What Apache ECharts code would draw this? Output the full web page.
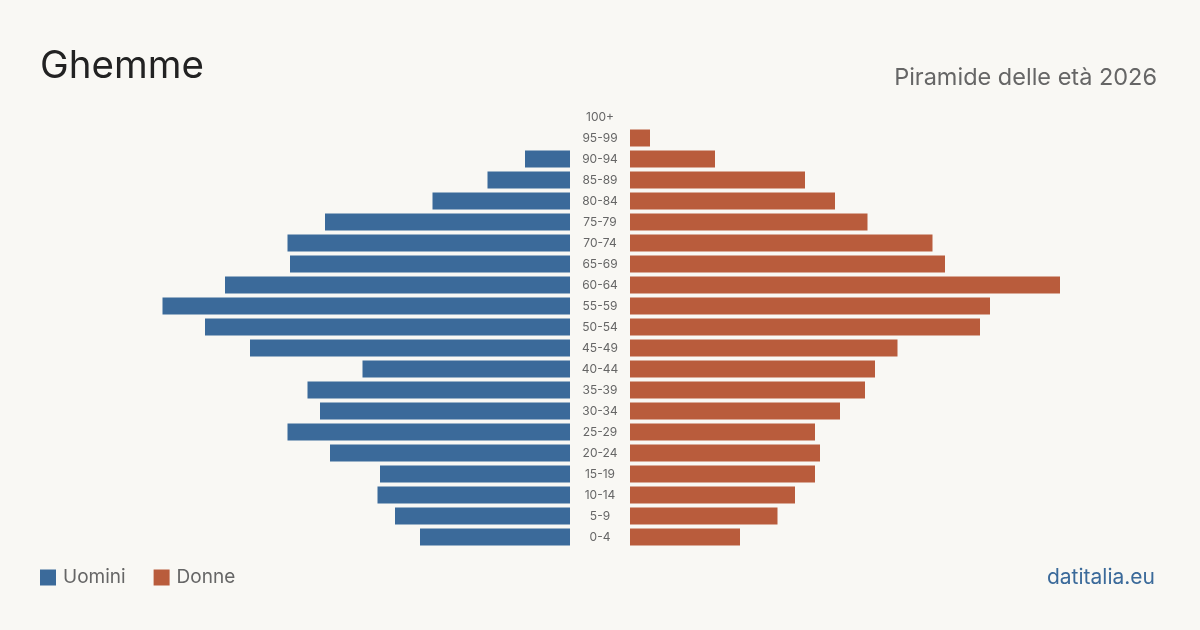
<!DOCTYPE html>
<html>
<head>
<meta charset="utf-8">
<title>Ghemme - Piramide delle età 2026</title>
<script src="https://cdn.jsdelivr.net/npm/echarts@6/dist/echarts.min.js"></script>
<style>
  html, body { margin: 0; padding: 0; background: #f9f8f4; }
  #chart { width: 1200px; height: 630px; }
</style>
</head>
<body>
<div id="chart"></div>
<script>
// classi di età, dal basso verso l'alto
const ageGroups = ['0-4', '5-9', '10-14', '15-19', '20-24', '25-29', '30-34', '35-39', '40-44', '45-49',
  '50-54', '55-59', '60-64', '65-69', '70-74', '75-79', '80-84', '85-89', '90-94', '95-99', '100+'];
const uomini = [60, 70, 77, 76, 96, 113, 100, 105, 83, 128, 146, 163, 138, 112, 113, 98, 55, 33, 18, 0, 0];
const donne = [44, 59, 66, 74, 76, 74, 84, 94, 98, 107, 140, 144, 172, 126, 121, 95, 82, 70, 34, 8, 0];
const axisMax = 212;

const blue = '#3b6a9a';
const orange = '#b95c3c';

const chart = echarts.init(document.getElementById('chart'));

chart.setOption({
  backgroundColor: '#f9f8f4',
  animation: false,
  title: [
    {
      text: 'Ghemme',
      left: 35, top: 42,
      textStyle: { fontFamily: 'Inter', fontSize: 38.5, fontWeight: 'normal', color: '#222' }
    },
    {
      text: 'Piramide delle età 2026',
      right: 38, top: 61,
      textStyle: { fontFamily: 'Inter', fontSize: 23.5, fontWeight: 'normal', color: '#666' }
    },
    {
      text: 'datitalia.eu',
      right: 40, top: 562,
      textStyle: { fontFamily: 'Inter', fontSize: 21, fontWeight: 'normal', color: blue }
    }
  ],
  legend: {
    left: 40, top: 568, padding: 0,
    itemWidth: 16, itemHeight: 16, itemGap: 28,
    icon: 'rect',
    textStyle: { fontFamily: 'Inter', fontSize: 19, color: '#666', padding: [0, 0, 0, 2] },
    data: ['Uomini', 'Donne']
  },
  grid: [
    { left: 40, right: 630, top: 106.5, bottom: 82.5 },
    { left: 630, right: 40, top: 106.5, bottom: 82.5 }
  ],
  xAxis: [
    { gridIndex: 0, type: 'value', min: 0, max: axisMax, inverse: true, show: false },
    { gridIndex: 1, type: 'value', min: 0, max: axisMax, show: false }
  ],
  yAxis: [
    { gridIndex: 0, type: 'category', data: ageGroups, show: false },
    {
      gridIndex: 1, type: 'category', data: ageGroups, position: 'left',
      axisLine: { show: false }, axisTick: { show: false },
      axisLabel: { margin: 30, align: 'center', fontFamily: 'Inter', fontSize: 12, color: '#666' }
    }
  ],
  series: [
    {
      name: 'Uomini', type: 'bar', xAxisIndex: 0, yAxisIndex: 0,
      data: uomini, barWidth: 17, itemStyle: { color: blue }
    },
    {
      name: 'Donne', type: 'bar', xAxisIndex: 1, yAxisIndex: 1,
      data: donne, barWidth: 17, itemStyle: { color: orange }
    }
  ]
});
</script>
</body>
</html>
